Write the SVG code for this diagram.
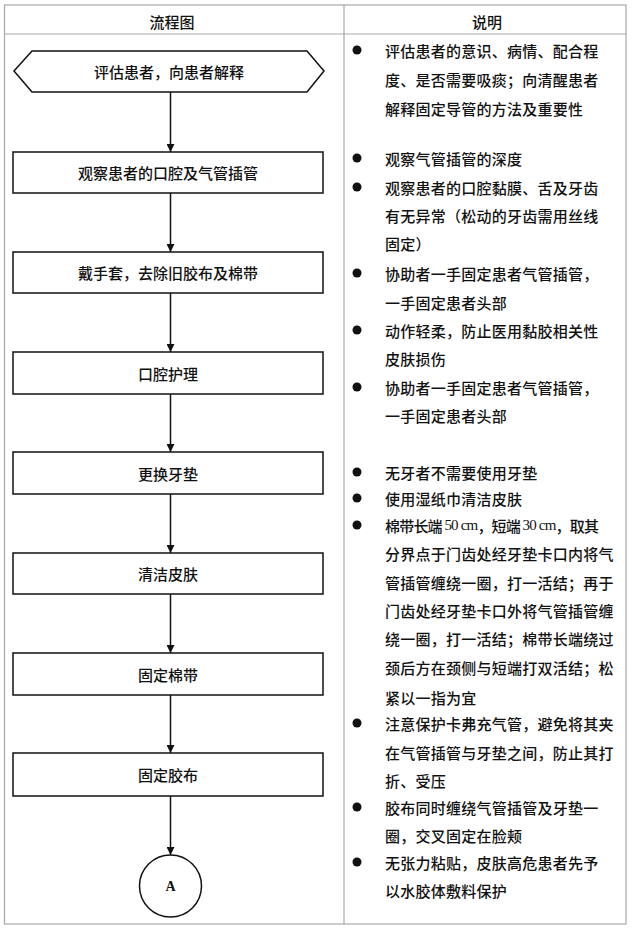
<svg xmlns="http://www.w3.org/2000/svg" width="633" height="936" viewBox="0 0 633 936">
<style>
text{font-family:"Noto Sans CJK SC","Liberation Serif",sans-serif;font-size:15px;font-weight:500;fill:#111;dominant-baseline:central}
.c{text-anchor:middle}
.d{letter-spacing:0.25px}
.s{font-family:"Liberation Serif","Noto Sans CJK SC",serif;font-size:15px}
.grid{stroke:#a8a8a8;stroke-width:1.2;fill:none}
.node{fill:#fff;stroke:#111;stroke-width:1.5}
.conn{stroke:#111;stroke-width:1.5;fill:none}
.bul{fill:#111}
</style>
<defs>
<marker id="ah" viewBox="0 0 10 10" refX="10" refY="5" markerWidth="8" markerHeight="8" markerUnits="userSpaceOnUse" orient="auto">
<path d="M0,0 L10,5 L0,10 z" fill="#111"/>
</marker>
</defs>
<rect width="633" height="936" fill="#fff"/>
<g id="table">
<rect class="grid" x="4.5" y="5" width="621.5" height="919"/>
<line class="grid" x1="4.5" y1="34" x2="626" y2="34"/>
<line class="grid" x1="344" y1="5" x2="344" y2="924"/>
<text class="c" x="172" y="21">流程图</text>
<text class="c" x="487" y="21">说明</text>
</g>
<g id="connectors">
<line class="conn" x1="170.5" y1="92" x2="170.5" y2="152" marker-end="url(#ah)"/>
<line class="conn" x1="170.5" y1="193" x2="170.5" y2="252" marker-end="url(#ah)"/>
<line class="conn" x1="170.5" y1="293" x2="170.5" y2="352" marker-end="url(#ah)"/>
<line class="conn" x1="170.5" y1="394" x2="170.5" y2="452" marker-end="url(#ah)"/>
<line class="conn" x1="170.5" y1="494" x2="170.5" y2="553" marker-end="url(#ah)"/>
<line class="conn" x1="170.5" y1="594" x2="170.5" y2="653" marker-end="url(#ah)"/>
<line class="conn" x1="170.5" y1="695" x2="170.5" y2="753" marker-end="url(#ah)"/>
<line class="conn" x1="170.5" y1="796" x2="170.5" y2="855" marker-end="url(#ah)"/>
</g>
<g id="n1">
<polygon class="node" points="14,71 32,51 307,51 324,71 307,92 32,92"/>
<text class="c" x="169" y="71">评估患者，向患者解释</text>
</g>
<g id="n2">
<rect class="node" x="13" y="152" width="310" height="41"/>
<text class="c" x="168" y="172.5">观察患者的口腔及气管插管</text>
</g>
<g id="n3">
<rect class="node" x="13" y="252" width="310" height="41"/>
<text class="c" x="168" y="272.5">戴手套，去除旧胶布及棉带</text>
</g>
<g id="n4">
<rect class="node" x="13" y="352" width="310" height="42"/>
<text class="c" x="168" y="373">口腔护理</text>
</g>
<g id="n5">
<rect class="node" x="13" y="452" width="310" height="42"/>
<text class="c" x="168" y="473">更换牙垫</text>
</g>
<g id="n6">
<rect class="node" x="13" y="553" width="310" height="41"/>
<text class="c" x="168" y="573.5">清洁皮肤</text>
</g>
<g id="n7">
<rect class="node" x="13" y="653" width="310" height="42"/>
<text class="c" x="168" y="674">固定棉带</text>
</g>
<g id="n8">
<rect class="node" x="13" y="753" width="310" height="43"/>
<text class="c" x="168" y="774.5">固定胶布</text>
</g>
<g id="n9">
<circle class="node" cx="170.5" cy="886" r="31"/>
<text class="c" x="170.5" y="886" style="font-family:'Liberation Serif',serif;font-weight:bold;font-size:14px">A</text>
</g>
<g id="notes">
<circle class="bul" cx="357" cy="50" r="4.5"/>
<circle class="bul" cx="357" cy="158" r="4.5"/>
<circle class="bul" cx="357" cy="187" r="4.5"/>
<circle class="bul" cx="357" cy="273" r="4.5"/>
<circle class="bul" cx="357" cy="330" r="4.5"/>
<circle class="bul" cx="357" cy="387" r="4.5"/>
<circle class="bul" cx="357" cy="472" r="4.5"/>
<circle class="bul" cx="357" cy="498" r="4.5"/>
<circle class="bul" cx="357" cy="525" r="4.5"/>
<circle class="bul" cx="357" cy="723" r="4.5"/>
<circle class="bul" cx="357" cy="807" r="4.5"/>
<circle class="bul" cx="357" cy="862" r="4.5"/>
<text class="d" x="385" y="50">评估患者的意识、病情、配合程</text>
<text class="d" x="385" y="79">度、是否需要吸痰；向清醒患者</text>
<text class="d" x="385" y="108">解释固定导管的方法及重要性</text>
<text class="d" x="385" y="158">观察气管插管的深度</text>
<text class="d" x="385" y="187">观察患者的口腔黏膜、舌及牙齿</text>
<text class="d" x="385" y="215">有无异常（松动的牙齿需用丝线</text>
<text class="d" x="385" y="243">固定）</text>
<text class="d" x="385" y="273">协助者一手固定患者气管插管，</text>
<text class="d" x="385" y="302">一手固定患者头部</text>
<text class="d" x="385" y="330">动作轻柔，防止医用黏胶相关性</text>
<text class="d" x="385" y="358">皮肤损伤</text>
<text class="d" x="385" y="387">协助者一手固定患者气管插管，</text>
<text class="d" x="385" y="415">一手固定患者头部</text>
<text class="d" x="385" y="472">无牙者不需要使用牙垫</text>
<text class="d" x="385" y="498">使用湿纸巾清洁皮肤</text>
<text x="385" y="525" textLength="214" lengthAdjust="spacing">棉带长端 <tspan class="s">50 cm</tspan>，短端 <tspan class="s">30 cm</tspan>，取其</text>
<text class="d" x="385" y="553">分界点于门齿处经牙垫卡口内将气</text>
<text class="d" x="385" y="582">管插管缠绕一圈，打一活结；再于</text>
<text class="d" x="385" y="610">门齿处经牙垫卡口外将气管插管缠</text>
<text class="d" x="385" y="638">绕一圈，打一活结；棉带长端绕过</text>
<text class="d" x="385" y="667">颈后方在颈侧与短端打双活结；松</text>
<text class="d" x="385" y="697">紧以一指为宜</text>
<text class="d" x="385" y="723">注意保护卡弗充气管，避免将其夹</text>
<text class="d" x="385" y="752">在气管插管与牙垫之间，防止其打</text>
<text class="d" x="385" y="780">折、受压</text>
<text class="d" x="385" y="807">胶布同时缠绕气管插管及牙垫一</text>
<text class="d" x="385" y="835">圈，交叉固定在脸颊</text>
<text class="d" x="385" y="862">无张力粘贴，皮肤高危患者先予</text>
<text class="d" x="385" y="890">以水胶体敷料保护</text>
</g>
</svg>
